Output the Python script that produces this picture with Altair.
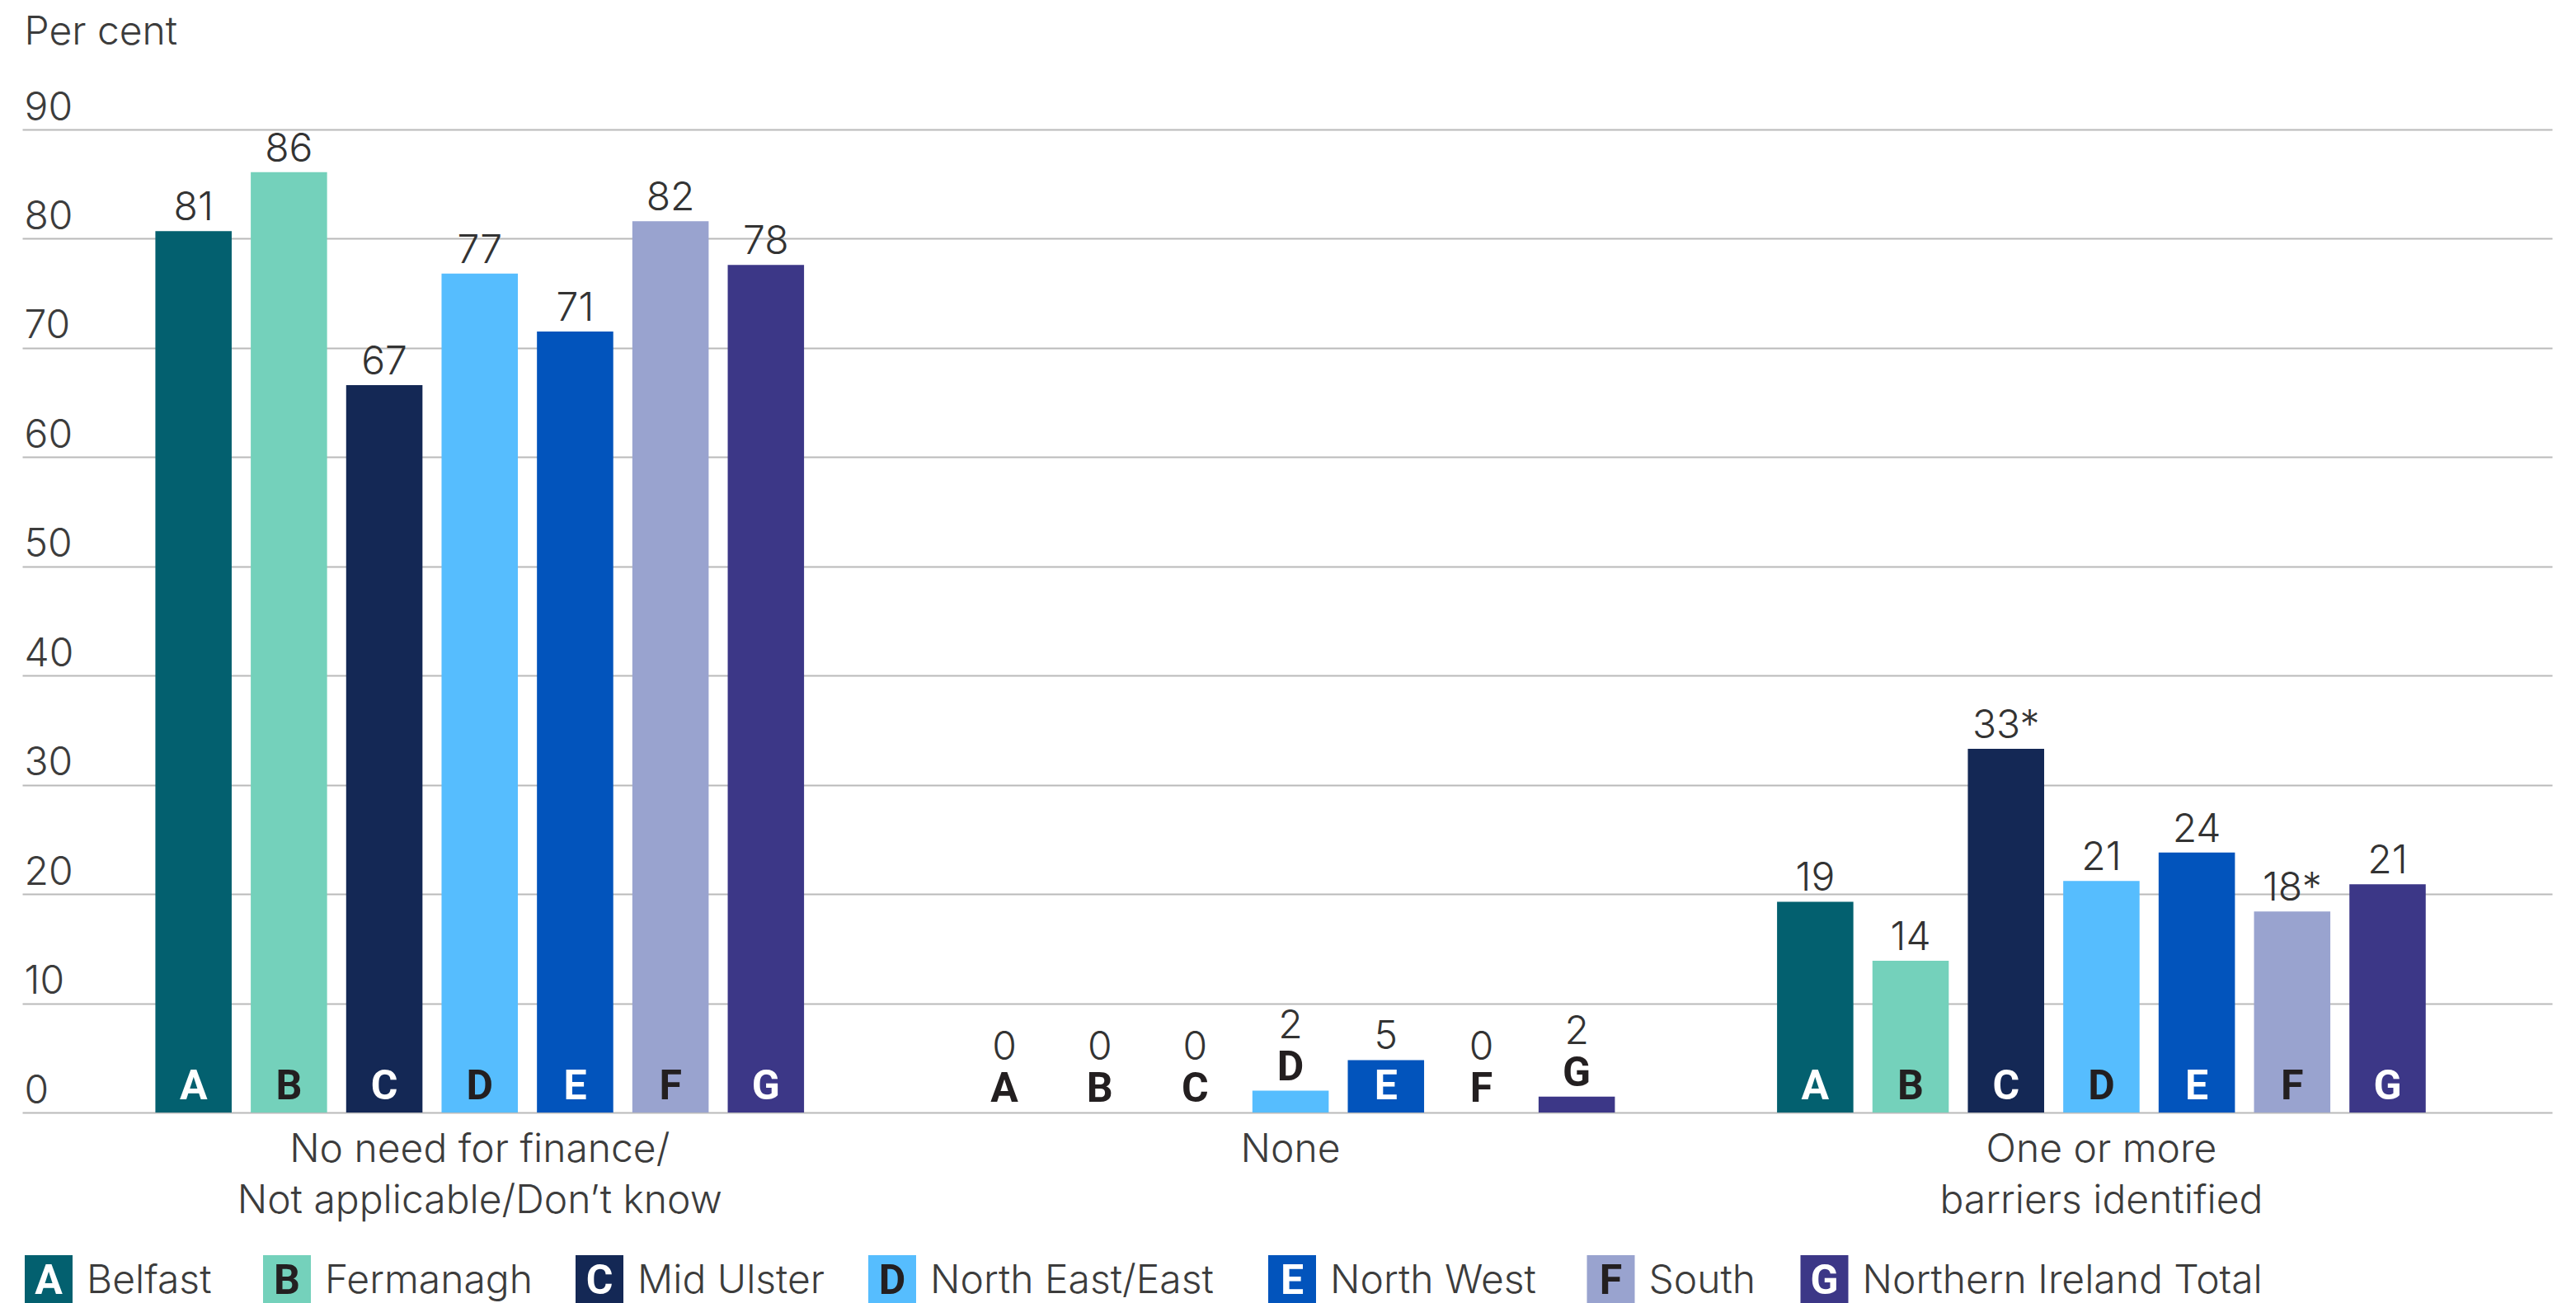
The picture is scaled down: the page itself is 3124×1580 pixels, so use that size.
import altair as alt
import pandas as pd

# ---- data ----
categories = ["No need for finance/|Not applicable/Don\u2019t know", "None", "One or more|barriers identified"]
regions = ["A", "B", "C", "D", "E", "F", "G"]
region_names = ["Belfast", "Fermanagh", "Mid Ulster", "North East/East", "North West", "South", "Northern Ireland Total"]
region_colors = ["#03606f", "#74d1bb", "#142855", "#56bdfe", "#0254bc", "#99a3cf", "#3c3787"]
dark_letter_regions = ["B", "D", "F"]

values_need = [80.7, 86.1, 66.6, 76.8, 71.5, 81.6, 77.6]
values_none = [0, 0, 0, 2.0, 4.8, 0, 1.45]
values_barriers = [19.3, 13.9, 33.3, 21.2, 23.8, 18.4, 20.9]

labels_need = ["81", "86", "67", "77", "71", "82", "78"]
labels_none = ["0", "0", "0", "2", "5", "0", "2"]
labels_barriers = ["19", "14", "33*", "21", "24", "18*", "21"]

y_ticks = [0, 10, 20, 30, 40, 50, 60, 70, 80, 90]

rows = []
for cat, vals, labs in zip(categories, [values_need, values_none, values_barriers],
                           [labels_need, labels_none, labels_barriers]):
    for r, v, l in zip(regions, vals, labs):
        rows.append({"category": cat, "region": r, "value": v, "label": l})
df = pd.DataFrame(rows)
legend_df = pd.DataFrame({"region": regions, "name": region_names})

FONT = "Inter"
TXT = "#3c3c3c"
W = 3068
H = 1192

color_scale = alt.Scale(domain=regions, range=region_colors)
x_enc = alt.X("category:N", sort=categories,
              scale=alt.Scale(paddingInner=0.2, paddingOuter=0.16, align=0.513),
              axis=alt.Axis(title=None, labelAngle=0, domain=False, ticks=False,
                            labelExpr="split(datum.value, '|')", labelLimit=2000,
                            labelFont=FONT, labelFontWeight=300, labelFontSize=48,
                            labelColor=TXT, labelLineHeight=62, labelPadding=21))
xoff = alt.XOffset("region:N", sort=regions, scale=alt.Scale(paddingInner=0.2))
y_scale = alt.Scale(domain=[0, 90], nice=False)

base = alt.Chart(df).encode(x=x_enc, xOffset=xoff)

bars = base.mark_bar().encode(
    y=alt.Y("value:Q", scale=y_scale,
            axis=alt.Axis(values=y_ticks, title="Per cent", titleAngle=0, titleAlign="left",
                          titleBaseline="alphabetic", titleX=2, titleY=-104,
                          titleFont=FONT, titleFontWeight=300, titleFontSize=48, titleColor=TXT,
                          domain=False, ticks=False, tickSize=0, labelPadding=-2,
                          labelAlign="left", labelBaseline="alphabetic", labelOffset=-12,
                          labelFont=FONT, labelFontWeight=300, labelFontSize=48, labelColor=TXT,
                          grid=True, gridColor="#bababa", gridWidth=2)),
    color=alt.Color("region:N", scale=color_scale, legend=None),
)

big = alt.datum.value >= 4
small = alt.datum.value < 4

value_big = base.transform_filter(big).mark_text(
    font=FONT, fontWeight=300, fontSize=48, color="#333333", baseline="alphabetic", dy=-13
).encode(y=alt.Y("value:Q", scale=y_scale), text="label:N")

value_small = base.transform_filter(small).mark_text(
    font=FONT, fontWeight=300, fontSize=48, color="#333333", baseline="alphabetic", dy=-64
).encode(y=alt.Y("value:Q", scale=y_scale), text="label:N")

letter_in = base.transform_filter(big).mark_text(
    font="Roboto", fontWeight="bold", fontSize=50, baseline="alphabetic", dy=-16
).encode(
    y=alt.Y(datum=0, scale=y_scale),
    text="region:N",
    color=alt.condition(alt.FieldOneOfPredicate(field="region", oneOf=dark_letter_regions),
                        alt.value("#231f20"), alt.value("#ffffff")),
)

letter_out = base.transform_filter(small).mark_text(
    font="Roboto", fontWeight="bold", fontSize=50, baseline="alphabetic", dy=-13, color="#231f20"
).encode(y=alt.Y("value:Q", scale=y_scale), text="region:N")

main = alt.layer(bars, value_big, value_small, letter_in, letter_out).properties(width=W, height=H)

# ---- legend row (piecewise-linear position scale over entry index) ----
idx_expr = "indexof(" + str(regions).replace("'", '"') + ", datum.region)"
leg_x = alt.X("idx:Q", axis=None,
              scale=alt.Scale(domain=list(range(len(regions))),
                              range=[32, 321, 700, 1055, 1540, 1926.5, 2185.5]))
leg_base = alt.Chart(legend_df).transform_calculate(idx=idx_expr).encode(x=leg_x)
leg_sq = leg_base.mark_square(size=58 * 58, opacity=1).encode(
    color=alt.Color("region:N", scale=color_scale, legend=None))
leg_letter = leg_base.mark_text(font="Roboto", fontWeight="bold", fontSize=50,
                                baseline="alphabetic", dy=18).encode(
    text="region:N",
    color=alt.condition(alt.FieldOneOfPredicate(field="region", oneOf=dark_letter_regions),
                        alt.value("#231f20"), alt.value("#ffffff")))
leg_name = leg_base.mark_text(font=FONT, fontWeight=300, fontSize=48, color=TXT,
                              align="left", baseline="alphabetic", dx=46, dy=17).encode(text="name:N")
legend = alt.layer(leg_sq, leg_letter, leg_name).properties(width=W, height=58)

chart = alt.vconcat(main, legend, spacing=173, bounds="flush").properties(
    padding={"left": 19, "top": 7, "right": 10, "bottom": 0}
).configure_view(stroke=None).configure_concat(spacing=173)

chart.save("out.html", embed_options={"renderer": "svg", "actions": False})
